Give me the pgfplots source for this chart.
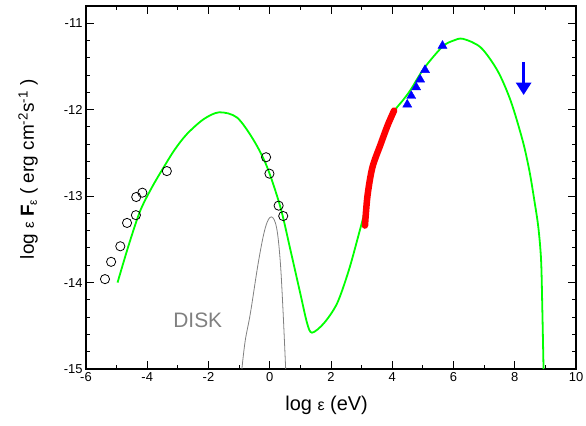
\documentclass[border=0pt]{standalone}
\usepackage{pgfplots}
\pgfplotsset{compat=1.18}
\usepackage{fontspec}
\setmainfont{Liberation Sans}
\setsansfont{Liberation Sans}
\usetikzlibrary{arrows.meta}
\definecolor{lgreen}{RGB}{0,255,0}
\definecolor{dgray}{RGB}{128,128,128}
\begin{document}
\begin{tikzpicture}
\path[use as bounding box] (-86bp,-57bp) rectangle (500bp,369bp);
\begin{axis}[
  at={(0,0)}, anchor=south west,
  scale only axis, width=490bp, height=363bp,
  xmin=-6, xmax=10, ymin=-15, ymax=-10.8,
  xtick={-6,-4,-2,0,2,4,6,8,10}, minor x tick num=1,
  ytick={-15,-14,-13,-12,-11}, minor y tick num=4,
  tick align=inside,
  major tick length=8bp, minor tick length=4.5bp,
  axis line style={line width=1.2bp},
  every tick/.style={black, line width=1bp},
  /pgf/number format/assume math mode=true,
  tick label style={font=\fontsize{13}{15}\selectfont},
  xlabel={log {\fontsize{16}{18}\selectfont ε} (eV)},
  ylabel={log {\fontsize{15}{17}\selectfont ε} \textbf{F}\raisebox{-0.3ex}{\fontsize{12}{14}\selectfont ε} ( erg cm\textsuperscript{-2}s\textsuperscript{-1} )},
  xlabel style={font=\fontsize{20}{22}\selectfont, at={(axis description cs:0.491,-0.099)}, anchor=center},
  ylabel style={font=\fontsize{19}{21}\selectfont, at={(axis description cs:-0.118,0.55)}, anchor=center},
]
% disk
\addplot[dgray, line width=0.8bp, smooth, tension=0.6] coordinates {
(-0.91,-15) (-0.8,-14.67) (-0.63,-14.35) (-0.36,-13.74) (-0.14,-13.36) (0.05,-13.24) (0.22,-13.36) (0.34,-13.74) (0.43,-14.3) (0.52,-15)};
% model
\addplot[lgreen, line width=1.8bp, smooth, tension=0.5] coordinates {
(-4.97,-14.0) (-4.6,-13.56) (-4.23,-13.17) (-3.85,-12.9) (-3.47,-12.67) (-3.1,-12.46) (-2.70,-12.28) (-2.16,-12.11) (-1.65,-12.03) (-1.07,-12.09) (-0.53,-12.35) (-0.09,-12.66) (0.35,-13.13) (0.68,-13.63) (1.0,-14.13) (1.22,-14.47) (1.38,-14.58) (1.77,-14.47) (2.2,-14.24) (2.58,-13.86) (2.9,-13.45) (3.12,-13.15) (3.26,-12.88) (3.42,-12.63) (3.62,-12.40) (3.85,-12.18) (4.1,-12.0) (4.35,-11.89) (4.6,-11.77) (5.04,-11.52) (5.64,-11.27) (6.0,-11.2) (6.31,-11.18) (6.89,-11.28) (7.44,-11.55) (7.87,-11.9) (8.26,-12.36) (8.48,-12.71) (8.64,-13.05) (8.77,-13.36) (8.86,-13.74) (8.90,-14.3) (8.94,-15.0)};
% red X-ray data
\addplot[red, line width=6.5bp, line cap=round, smooth] coordinates {
(3.11,-13.34) (3.19,-13.0) (3.35,-12.67) (3.62,-12.40) (3.85,-12.18) (4.06,-12.01)};
% open circles
\addplot[only marks, mark=o, mark size=4.6bp, black, mark options={line width=0.8bp}] coordinates {
(-5.38,-13.96) (-5.18,-13.76) (-4.88,-13.58) (-4.66,-13.31) (-4.37,-13.22) (-4.36,-13.01) (-4.16,-12.96) (-3.36,-12.71) (-0.12,-12.55) (-0.01,-12.74) (0.29,-13.11) (0.44,-13.23)};
% blue triangles
\addplot[only marks, mark=triangle*, mark size=5.2bp, blue] coordinates {
(4.49,-11.94) (4.62,-11.84) (4.78,-11.74) (4.91,-11.65) (5.07,-11.54) (5.64,-11.26)};
% upper limit arrow
\addplot[blue, line width=3bp, -{Triangle[width=15bp,length=12.5bp]}] coordinates {(8.29,-11.45) (8.29,-11.83)};
\node[dgray, font=\fontsize{21}{23}\selectfont] at (axis cs:-2.35,-14.44) {DISK};
\end{axis}
\end{tikzpicture}
\end{document}
